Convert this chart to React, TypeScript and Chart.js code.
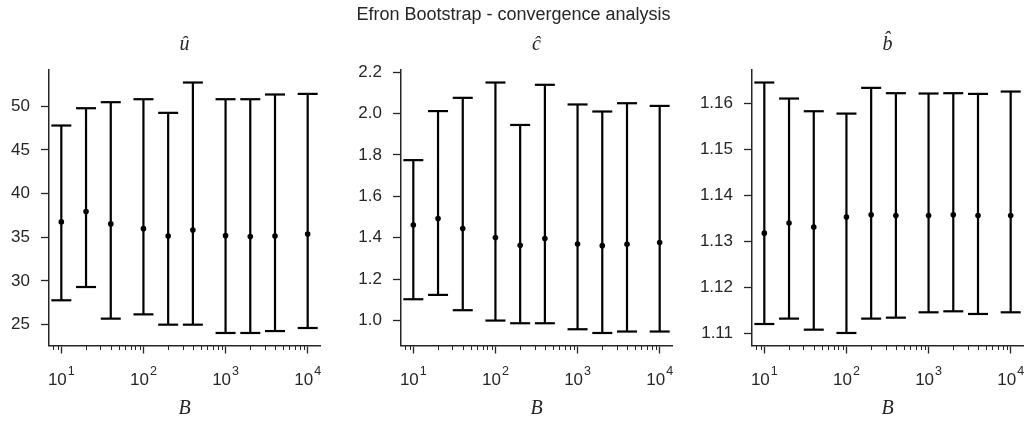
import React, { useEffect, useRef } from "react";
import { Chart, registerables } from "chart.js";

Chart.register(...registerables);

// ---------- data ----------
const B_VALUES = [10, 20, 40, 100, 200, 400, 1000, 2000, 4000, 10000];

const U_MEAN = [36.76, 37.94, 36.53, 35.99, 35.15, 35.84, 35.19, 35.08, 35.15, 35.38];
const U_LOW = [27.79, 29.31, 25.69, 26.18, 25.0, 25.0, 24.05, 24.05, 24.27, 24.62];
const U_HIGH = [47.79, 49.77, 50.46, 50.8, 49.24, 52.71, 50.8, 50.8, 51.34, 51.41];

const C_MEAN = [1.462, 1.493, 1.445, 1.401, 1.364, 1.396, 1.37, 1.362, 1.369, 1.377];
const C_LOW = [1.103, 1.124, 1.05, 1.0, 0.987, 0.987, 0.958, 0.94, 0.947, 0.947];
const C_HIGH = [1.775, 2.012, 2.076, 2.15, 1.945, 2.139, 2.044, 2.01, 2.05, 2.037];

const BH_MEAN = [1.13184, 1.13402, 1.13315, 1.13533, 1.13583, 1.13569, 1.13569, 1.13583, 1.13569, 1.13569];
const BH_LOW = [1.1121, 1.11327, 1.11087, 1.11015, 1.11327, 1.11348, 1.11464, 1.11486, 1.11428, 1.11464];
const BH_HIGH = [1.16457, 1.16109, 1.15833, 1.15782, 1.16341, 1.16225, 1.16218, 1.16225, 1.1621, 1.16261];

const X_MAJOR_TICKS = [10, 100, 1000, 10000];
const X_MAJOR_EXPONENTS = ["1", "2", "3", "4"];
const X_MINOR_TICKS = [
  8, 9,
  20, 30, 40, 50, 60, 70, 80, 90,
  200, 300, 400, 500, 600, 700, 800, 900,
  2000, 3000, 4000, 5000, 6000, 7000, 8000, 9000,
];

const MAIN_TITLE = "Efron Bootstrap - convergence analysis";
const PANEL_TITLES = ["\u00fb", "\u0109", "b\u0302"];
const X_TITLE = "B";

// ---------- styling ----------
const SANS = '"Liberation Sans", Arial, Helvetica, sans-serif';
const SERIF = '"Liberation Serif", "DejaVu Serif", serif';
const INK = "#262626";
const BAR = "#000000";
const H = 423;

type PanelSpec = {
  title: string;
  mean: number[];
  low: number[];
  high: number[];
  step: number;
  decimals: number;
  left: number;
  width: number;
  yw: number;
  pr: number;
};

const PANELS: PanelSpec[] = [
  { title: PANEL_TITLES[0], mean: U_MEAN, low: U_LOW, high: U_HIGH, step: 5, decimals: 0, left: 0, width: 340, yw: 49, pr: 20 },
  { title: PANEL_TITLES[1], mean: C_MEAN, low: C_LOW, high: C_HIGH, step: 0.2, decimals: 1, left: 340, width: 345, yw: 61, pr: 13 },
  { title: PANEL_TITLES[2], mean: BH_MEAN, low: BH_LOW, high: BH_HIGH, step: 0.01, decimals: 2, left: 685, width: 342, yw: 67, pr: 4 },
];

const axisExtrasPlugin = {
  id: "axisExtras",
  afterDraw(chart: any) {
    const { ctx, chartArea } = chart;
    const xs = chart.scales.x;
    ctx.save();
    // minor ticks
    ctx.strokeStyle = INK;
    ctx.lineWidth = 1;
    for (const v of X_MINOR_TICKS) {
      const px = Math.round(xs.getPixelForValue(v)) + 0.5;
      if (px < chartArea.left || px > chartArea.right) continue;
      ctx.beginPath();
      ctx.moveTo(px, chartArea.bottom);
      ctx.lineTo(px, chartArea.bottom + 4.5);
      ctx.stroke();
    }
    // major tick labels 10^k
    ctx.fillStyle = INK;
    ctx.textBaseline = "alphabetic";
    ctx.textAlign = "left";
    X_MAJOR_TICKS.forEach((v, i) => {
      const px = xs.getPixelForValue(v);
      ctx.font = `17px ${SANS}`;
      const w1 = ctx.measureText("10").width;
      ctx.font = `12.5px ${SANS}`;
      const w2 = ctx.measureText(X_MAJOR_EXPONENTS[i]).width;
      const start = px - (w1 + w2 + 1) / 2;
      ctx.font = `17px ${SANS}`;
      ctx.fillText("10", start, chartArea.bottom + 39.5);
      ctx.font = `12.5px ${SANS}`;
      ctx.fillText(X_MAJOR_EXPONENTS[i], start + w1 + 1, chartArea.bottom + 29.5);
    });
    ctx.restore();
  },
};

function PanelChart({ spec }: { spec: PanelSpec }) {
  const ref = useRef<HTMLCanvasElement | null>(null);

  useEffect(() => {
    if (!ref.current) return;
    const yLo = Math.min(...spec.low);
    const yHi = Math.max(...spec.high);
    const yPad = (yHi - yLo) * 0.05;
    const lx0 = Math.log10(Math.min(...B_VALUES));
    const lx1 = Math.log10(Math.max(...B_VALUES));
    const xPad = (lx1 - lx0) * 0.05;

    const barPoints: { x: number; y: number | null }[] = [];
    B_VALUES.forEach((b, i) => {
      barPoints.push({ x: b, y: spec.low[i] });
      barPoints.push({ x: b, y: spec.high[i] });
      barPoints.push({ x: b, y: null });
    });
    const meanPoints = B_VALUES.map((b, i) => ({ x: b, y: spec.mean[i] }));

    const chart = new Chart(ref.current, {
      type: "line",
      data: {
        datasets: [
          {
            data: barPoints as any,
            borderColor: BAR,
            borderWidth: 2.2,
            pointStyle: "line",
            pointRadius: 10,
            pointHoverRadius: 10,
            pointBorderWidth: 2.2,
            pointBorderColor: BAR,
            pointBackgroundColor: BAR,
            spanGaps: false,
            fill: false,
            tension: 0,
            clip: false as any,
          },
          {
            data: meanPoints as any,
            showLine: false,
            pointStyle: "circle",
            pointRadius: 2.8,
            pointHoverRadius: 2.8,
            pointBorderWidth: 0,
            pointBackgroundColor: BAR,
            borderColor: BAR,
            clip: false as any,
          },
        ],
      },
      options: {
        animation: false,
        responsive: false,
        events: [],
        layout: { autoPadding: false, padding: { left: 0, right: spec.pr, top: 0, bottom: 0 } },
        plugins: {
          legend: { display: false },
          tooltip: { enabled: false },
          title: {
            display: true,
            text: spec.title,
            fullSize: false,
            color: INK,
            font: { family: SERIF, size: 20, style: "italic", weight: "normal" },
            padding: { top: 33, bottom: 13 },
          },
        },
        scales: {
          x: {
            type: "logarithmic",
            min: Math.pow(10, lx0 - xPad),
            max: Math.pow(10, lx1 + xPad),
            afterBuildTicks: (s: any) => {
              s.ticks = X_MAJOR_TICKS.map((v) => ({ value: v, major: true }));
            },
            afterFit: (s: any) => {
              s.height = 77.5;
            },
            grid: { drawOnChartArea: false, drawTicks: true, tickLength: 8, tickWidth: 1.3, tickColor: INK },
            border: { display: true, color: INK, width: 1.5 },
            ticks: { callback: () => "", autoSkip: false, maxRotation: 0, minRotation: 0 },
            title: {
              display: true,
              text: X_TITLE,
              color: INK,
              font: { family: SERIF, size: 20, style: "italic", weight: "normal" },
              padding: { top: 0, bottom: 2.7 },
            },
          },
          y: {
            type: "linear",
            min: yLo - yPad,
            max: yHi + yPad,
            afterFit: (s: any) => {
              s.width = spec.yw;
            },
            grid: { drawOnChartArea: false, drawTicks: true, tickLength: 8, tickWidth: 1.3, tickColor: INK },
            border: { display: true, color: INK, width: 1.5 },
            ticks: {
              stepSize: spec.step,
              includeBounds: false,
              padding: 11,
              color: INK,
              font: { family: SANS, size: 17 },
              callback: (v: any) => Number(v).toFixed(spec.decimals),
            },
          },
        },
      },
      plugins: [axisExtrasPlugin],
    });
    return () => chart.destroy();
  }, [spec]);

  return (
    <canvas
      ref={ref}
      width={spec.width}
      height={H}
      style={{ position: "absolute", left: spec.left, top: 0, width: spec.width, height: H, display: "block" }}
    />
  );
}

export default function App() {
  return (
    <div
      style={{
        position: "fixed",
        left: 0,
        top: 0,
        width: 1027,
        height: H,
        background: "#ffffff",
        overflow: "hidden",
      }}
    >
      {PANELS.map((p, i) => (
        <PanelChart key={i} spec={p} />
      ))}
      <div
        style={{
          position: "absolute",
          left: 0,
          top: 0,
          width: 1027,
          textAlign: "center",
          fontFamily: SANS,
          fontSize: 18,
          lineHeight: "28px",
          color: INK,
          pointerEvents: "none",
        }}
      >
        {MAIN_TITLE}
      </div>
    </div>
  );
}
